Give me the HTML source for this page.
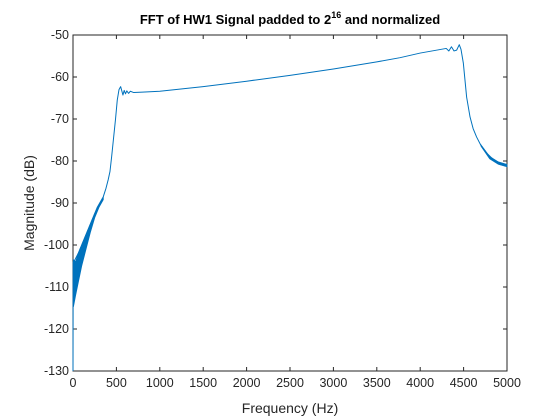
<!DOCTYPE html>
<html><head><meta charset="utf-8"><style>
body{margin:0;background:#fff;}
svg{display:block;font-family:"Liberation Sans",Arial,sans-serif;}
</style></head><body>
<svg id="chart" width="560" height="420" viewBox="0 0 560 420">
<rect width="560" height="420" fill="#fff"/>
<text x="290" y="24" text-anchor="middle" font-size="13" font-weight="bold" fill="#000">FFT of HW1 Signal padded to 2<tspan font-size="9" dy="-6">16</tspan><tspan dy="6"> and normalized</tspan></text>
<g id="plot"></g>
<text x="290" y="413" text-anchor="middle" font-size="14" fill="#262626">Frequency (Hz)</text>
<text transform="translate(34,203) rotate(-90)" text-anchor="middle" font-size="14" fill="#262626">Magnitude (dB)</text>
</svg>
<script>
const xTicks=[0,500,1000,1500,2000,2500,3000,3500,4000,4500,5000];
const yTicks=[-50,-60,-70,-80,-90,-100,-110,-120,-130];
// main trace (frequency Hz, dB)
const freqs=[0,2,5,10,60,120,200,280,349,380,405,426,445,465,490,510,530,549,565,575,590,605,620,640,660,700,800,1000,1500,2000,2500,3000,3500,3767,4000,4300,4330,4360,4390,4420,4450,4470,4497,4535,4574,4610,4650,4700,4765,4840,4919,5000];
const mags=[-130,-104,-112,-104,-102,-99,-95,-91,-88.5,-86.5,-84.5,-82.5,-79,-75,-70,-65.5,-63,-62.3,-63.5,-64.3,-63.2,-64,-63.3,-63.9,-63.4,-63.7,-63.6,-63.4,-62.3,-61,-59.6,-58.1,-56.4,-55.4,-54.3,-53.2,-53.8,-52.8,-53.8,-53.6,-52.3,-53.4,-56.7,-64.8,-69.5,-72.3,-74.3,-76.3,-78.1,-79.6,-80.5,-81];
// thick oscillation band near DC (upper and lower envelopes)
const bandFreqs=[5,30,60,100,150,200,250,300,349];
const bandUpper=[-103.5,-104,-102,-100,-97.5,-95,-92.5,-90.5,-88.8];
const bandLower=[-114.7,-112,-109,-105,-101,-97,-93.5,-91,-89.2];
// thin band near Nyquist
const tailFreqs=[4700,4800,4900,5000];
const tailUpper=[-76.1,-78.9,-80.2,-80.8];
const tailLower=[-76.5,-79.5,-80.8,-81.4];

const X0=73,X1=507,Y0=35,Y1=371;
const sx=f=>X0+(f-0)/5000*(X1-X0);
const sy=d=>Y0+(-50-d)/80*(Y1-Y0);
const NS="http://www.w3.org/2000/svg";
const plot=document.getElementById('plot');
function mk(tag,attrs){const e=document.createElementNS(NS,tag);for(const k in attrs)e.setAttribute(k,attrs[k]);plot.appendChild(e);return e;}

const box=mk('rect',{x:X0,y:Y0,width:X1-X0,height:Y1-Y0,fill:'#fff',stroke:'#262626','stroke-width':1});



xTicks.forEach(t=>{
  const x=sx(t);
  const a=mk('line',{x1:x,x2:x,y1:Y1,y2:Y1-4,stroke:'#262626'});
  
  
  const b=mk('line',{x1:x,x2:x,y1:Y0,y2:Y0+4,stroke:'#262626'});
  
  
  const tx=mk('text',{x:x,y:Y1+16,'text-anchor':'middle','font-size':12.5,fill:'#262626'});
  tx.textContent=t;
  
  
});
yTicks.forEach(t=>{
  const y=sy(t);
  const a=mk('line',{x1:X0,x2:X0+4,y1:y,y2:y,stroke:'#262626'});
  
  
  const b=mk('line',{x1:X1,x2:X1-4,y1:y,y2:y,stroke:'#262626'});
  
  
  const tx=mk('text',{x:X0-4,y:y+4,'text-anchor':'end','font-size':12.5,fill:'#262626'});
  tx.textContent=t;
  
  
});

function bandPts(fs,up,lo){
  const p=[];
  fs.forEach((f,i)=>p.push(sx(f)+','+sy(up[i])));
  for(let i=fs.length-1;i>=0;i--)p.push(sx(fs[i])+','+sy(lo[i]));
  return p.join(' ');
}
const band1=mk('polygon',{points:bandPts(bandFreqs,bandUpper,bandLower),fill:'#0072BD',stroke:'#0072BD','stroke-width':0.8});


const band2=mk('polygon',{points:bandPts(tailFreqs,tailUpper,tailLower),fill:'#0072BD',stroke:'#0072BD','stroke-width':0.6});



const line=mk('polyline',{points:freqs.map((f,i)=>sx(f)+','+sy(mags[i])).join(' '),fill:'none',stroke:'#0072BD','stroke-width':1,'stroke-linejoin':'round'});


</script>
</body></html>
